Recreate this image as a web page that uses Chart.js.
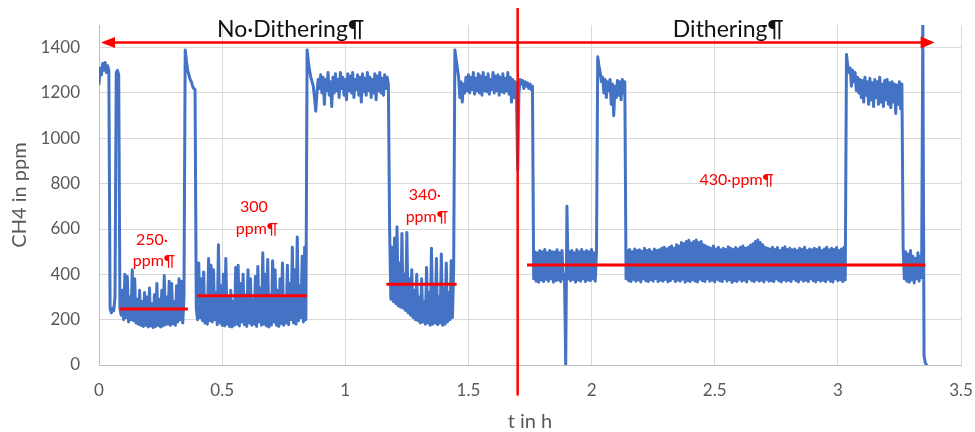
<!DOCTYPE html>
<html lang="en">
<head>
  <meta charset="UTF-8">
  <title>CH4 – No Dithering vs Dithering</title>
  <script src="https://cdn.jsdelivr.net/npm/chart.js"></script>
  <style>
    body {
      margin: 0;
      background: #fff;
    }
    canvas {
      display: block;
    }
  </style>
</head>
<body>
  <canvas id="ch4Chart" width="975" height="432"></canvas>

  <script>
    const timeStepH = 0.005;
    const ch4Ppm = [
      1240, 1310, 1280, 1330, 1300, 1335, 1290, 1320, 1300,
      250, 230, 250, 240, 300, 1290, 1300, 1280,
      250, 220, 330, 200, 400, 210, 390, 190, 300, 200, 420, 195, 380, 185, 290, 180, 330, 175, 280, 170,
      320, 175, 300, 168, 340, 172, 270, 165, 310, 170, 360, 175, 290, 168, 330, 172, 395, 178, 300, 180,
      370, 175, 360, 182, 280, 175, 350, 190, 380, 200, 370, 185, 300,
      1390, 1340, 1300, 1280, 1260, 1250, 1230, 1220, 1215,
      250, 200, 450, 210, 380, 195, 410, 185, 300, 180, 470, 195, 440, 190, 420, 200, 320, 178, 530, 185,
      350, 175, 400, 172, 470, 180, 300, 170, 330, 168, 280, 175, 430, 180, 440, 172, 360, 190, 400, 178,
      310, 170, 420, 185, 380, 175, 290, 180, 390, 170, 435, 190, 340, 175, 495, 180, 400, 172, 465, 168,
      310, 176, 460, 190, 420, 175, 330, 170, 380, 182, 450, 175, 300, 185, 440, 178, 360, 200, 520, 185,
      420, 180, 565, 195, 350, 210, 480, 190, 520, 200,
      1390, 1340, 1300, 1270, 1250, 1230, 1180, 1120, 1200, 1260, 1220,
      1280, 1200, 1270, 1150, 1260, 1210, 1290, 1190, 1250, 1140,
      1270, 1200, 1285, 1210, 1260, 1180, 1290, 1220, 1270, 1190,
      1260, 1170, 1285, 1210, 1275, 1200, 1290, 1180, 1260, 1215,
      1280, 1190, 1270, 1160, 1285, 1205, 1265, 1190, 1290, 1210,
      1270, 1180, 1260, 1200, 1285, 1170, 1275, 1210, 1290, 1200,
      1265, 1190, 1280, 1220, 1270, 1240,
      600, 290, 520, 280, 560, 270, 610, 260, 450, 255, 580, 250, 400, 240, 585, 230, 380, 220, 420, 210,
      330, 200, 400, 195, 300, 185, 380, 190, 280, 180, 430, 185, 320, 175, 515, 180, 350, 185, 470, 178,
      300, 185, 490, 175, 340, 180, 450, 190, 320, 200, 460, 210, 420,
      1390, 1350, 1310, 1270, 1180, 1250, 1160, 1240, 1200, 1270,
      1210, 1280, 1200, 1270, 1215, 1290, 1195, 1265, 1210, 1285,
      1200, 1275, 1190, 1290, 1210, 1270, 1205, 1285, 1195, 1260,
      1215, 1290, 1200, 1275, 1210, 1280, 1190, 1270, 1205, 1285,
      1200, 1265, 1210, 1290, 1195, 1270, 1160, 1260, 1180, 1250,
      1190, 860,
      1200, 1260, 1240, 1255, 1220, 1250, 1230, 1245, 1220, 1240, 1215, 1230,
      380, 500, 370, 495, 365, 505, 375, 500, 368, 510, 378, 495, 370, 505, 380, 500, 365, 498, 372, 508,
      375, 495, 368, 505, 380, 400, 0, 700, 380,
      500, 372, 505, 378, 495, 365, 508, 375, 500, 370, 510, 380, 498, 368, 505, 375, 500, 372, 510, 380, 495, 370, 505,
      1360, 1320, 1290, 1250, 1270, 1200, 1260, 1180, 1250, 1210, 1260, 1150, 1240, 1100, 1230, 1180, 1255, 1190, 1250, 1170,
      1260, 1200, 1250,
      380, 505, 372, 510, 368, 500, 378, 512, 370, 505,
      375, 508, 366, 502, 380, 515, 372, 505, 368, 510,
      376, 500, 370, 512, 382, 505, 368, 508, 374, 515,
      370, 520, 378, 512, 366, 518, 372, 525, 380, 515,
      368, 530, 374, 525, 370, 540, 378, 535, 365, 545,
      372, 550, 368, 538, 376, 545, 370, 552, 366, 540,
      378, 545, 372, 530, 368, 525, 380, 520, 370, 515,
      374, 525, 366, 512, 378, 520, 372, 508, 368, 515,
      380, 510, 370, 522, 376, 515, 364, 510, 372, 518,
      368, 512, 378, 520, 370, 525, 374, 515, 366, 520,
      380, 528, 372, 535, 368, 545, 376, 552, 370, 540,
      374, 530, 366, 520, 378, 515, 370, 512, 372, 520,
      368, 510, 380, 518, 372, 505, 366, 515, 376, 522,
      370, 510, 374, 515, 368, 508, 380, 512, 372, 505,
      366, 515, 378, 510, 370, 520, 374, 505, 368, 512,
      380, 508, 372, 515, 366, 510, 376, 518, 370, 505,
      374, 512, 368, 520, 378, 508, 370, 515, 366, 510,
      380, 518, 372, 505, 376, 512, 368, 520, 375,
      1370, 1320, 1290, 1310, 1230, 1300, 1250, 1290, 1210, 1270,
      1200, 1260, 1180, 1255, 1160, 1270, 1190, 1250, 1150, 1265,
      1170, 1245, 1140, 1260, 1180, 1250, 1150, 1270, 1160, 1240,
      1140, 1255, 1170, 1260, 1150, 1245, 1135, 1250, 1160, 1240,
      1110, 1235, 1150, 1250, 1130, 1240,
      520, 380, 500, 370, 490, 365, 505, 375, 480, 362, 470, 380, 495, 370, 480, 385,
      1500, 40, 10, 0
    ];

    // mean levels (red lines)
    const meanStartH = [0.085, 0.398, 1.167, 1.738];
    const meanEndH = [0.361, 0.844, 1.452, 3.355];
    const meanPpm = [247, 305, 356, 441];
    const meanLabels = [['250·', 'ppm¶'], ['300', 'ppm¶'], ['340·', 'ppm¶'], ['430·ppm¶']];

    const ditherStartH = 1.70;
    const phaseLabels = ['No·Dithering¶', 'Dithering¶'];

    const red = '#ff0000';
    const blue = '#4472c4';
    const grey = '#595959';

    const annotations = {
      id: 'annotations',
      afterDatasetsDraw(chart) {
        const ctx = chart.ctx;
        const x = chart.scales.x, y = chart.scales.y;
        ctx.save();

        // divider between the two phases
        ctx.strokeStyle = red;
        ctx.lineWidth = 2.5;
        const xd = x.getPixelForValue(ditherStartH);
        ctx.beginPath();
        ctx.moveTo(xd, y.getPixelForValue(1575));
        ctx.lineTo(xd, y.getPixelForValue(-135));
        ctx.stroke();

        // double arrow
        const ya = y.getPixelForValue(1423);
        const xl = x.getPixelForValue(0.008), xr = x.getPixelForValue(3.393);
        ctx.beginPath();
        ctx.moveTo(xl + 8, ya);
        ctx.lineTo(xr - 8, ya);
        ctx.stroke();
        ctx.fillStyle = red;
        ctx.beginPath();
        ctx.moveTo(xl, ya); ctx.lineTo(xl + 14, ya - 5.5); ctx.lineTo(xl + 14, ya + 5.5);
        ctx.closePath(); ctx.fill();
        ctx.beginPath();
        ctx.moveTo(xr, ya); ctx.lineTo(xr - 14, ya - 6); ctx.lineTo(xr - 14, ya + 6);
        ctx.closePath(); ctx.fill();

        // phase titles
        ctx.fillStyle = '#111';
        ctx.font = '23px Lato';
        ctx.textAlign = 'left';
        ctx.textBaseline = 'alphabetic';
        ctx.fillText(phaseLabels[0], x.getPixelForValue(0.479), y.getPixelForValue(1449));
        ctx.fillText(phaseLabels[1], x.getPixelForValue(2.33), y.getPixelForValue(1449));

        // level notes
        const notePos = [
          [[0.215, 530], [0.223, 437]],
          [[0.629, 677], [0.641, 579]],
          [[1.323, 729], [1.331, 629]],
          [[2.589, 792]]
        ];
        ctx.fillStyle = red;
        ctx.font = '16px Lato';
        ctx.textAlign = 'center';
        meanLabels.forEach((lines, i) => {
          lines.forEach((txt, j) => {
            const p = notePos[i][j];
            ctx.fillText(txt, x.getPixelForValue(p[0]), y.getPixelForValue(p[1]));
          });
        });
        ctx.restore();
      }
    };

    function drawChart() {
      const trace = ch4Ppm.map((v, i) => ({ x: +(i * timeStepH).toFixed(3), y: v }));
      const meanSets = meanPpm.map((v, i) => ({
        data: [{ x: meanStartH[i], y: v }, { x: meanEndH[i], y: v }],
        borderColor: red,
        borderWidth: 3,
        pointRadius: 0,
        order: 1
      }));

      new Chart(document.getElementById('ch4Chart'), {
        type: 'line',
        data: {
          datasets: [
            {
              label: 'CH4',
              data: trace,
              borderColor: blue,
              borderWidth: 3,
              borderJoinStyle: 'round',
              borderCapStyle: 'round',
              pointRadius: 0,
              tension: 0,
              order: 2
            },
            ...meanSets
          ]
        },
        options: {
          responsive: false,
          animation: false,
          devicePixelRatio: 1,
          layout: { padding: { top: 25, right: 14, left: 0, bottom: 0 } },
          plugins: {
            legend: { display: false },
            tooltip: { enabled: false }
          },
          scales: {
            x: {
              type: 'linear',
              min: 0,
              max: 3.5,
              afterFit: s => { s.height = 67; s.paddingLeft = 0; s.paddingRight = 0; },
              grid: { color: '#d9d9d9', drawTicks: false },
              border: { color: '#bfbfbf' },
              ticks: {
                stepSize: 0.5,
                padding: 15,
                color: grey,
                font: { family: 'Lato', size: 17 },
                callback: v => String(v)
              },
              title: {
                display: true,
                text: 't in h',
                color: grey,
                font: { family: 'Lato', size: 20, lineHeight: 1 },
                padding: { top: 0, bottom: 0 }
              }
            },
            y: {
              min: 0,
              max: 1500,
              afterFit: s => { s.width = 99; s.paddingTop = 0; s.paddingBottom = 0; },
              afterBuildTicks: s => { s.ticks = s.ticks.filter(t => t.value <= 1400); },
              grid: { color: '#d9d9d9', drawTicks: false },
              border: { color: '#bfbfbf' },
              ticks: {
                stepSize: 200,
                includeBounds: false,
                padding: 19,
                color: grey,
                font: { family: 'Lato', size: 17 },
                callback: v => String(v)
              },
              title: {
                display: true,
                text: 'CH4 in ppm',
                color: grey,
                font: { family: 'Lato', size: 20 },
                padding: { top: 8, bottom: 0 }
              }
            }
          }
        },
        plugins: [annotations]
      });
    }

    document.fonts.load('17px Lato').then(drawChart, drawChart);
  </script>
</body>
</html>
